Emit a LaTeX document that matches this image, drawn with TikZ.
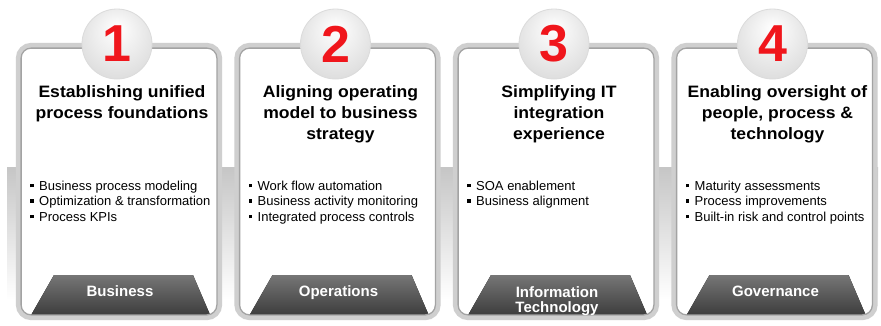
\documentclass[tikz,border=0pt]{standalone}
\usepackage{fontspec}
\setmainfont{Liberation Sans}
\newfontfamily\titlefont[FakeStretch=1.065]{Liberation Sans}
\usetikzlibrary{fadings}
\tikzfading[name=fadelr, left color=transparent!100, middle color=transparent!0, right color=transparent!100]
\definecolor{numred}{RGB}{240,22,28}
\definecolor{traptop}{RGB}{118,118,118}
\definecolor{trapbot}{RGB}{58,58,58}
\pgfdeclareradialshading{numball}{\pgfpoint{0bp}{12bp}}{color(0bp)=(white); color(14bp)=(gray!12); color(32bp)=(gray!28); color(50bp)=(gray!42)}
\newcommand\bul{\makebox[0pt][r]{\raisebox{2.8pt}{\rule{3.6pt}{3.6pt}}\hspace{5.5pt}}}
\newcommand\mkpanel[4]{%
  \pgfmathsetmacro\pL{#2}\pgfmathsetmacro\pR{#2+206}\pgfmathsetmacro\pC{#2+103}%
  \node[panelbody] (p#1) at (\pC,181.5) {};
  \fill[gray!55, path fading=fadelr] (\pL+14,149.6) rectangle (\pR-14,151.8);
  \fill[top color=gray!30, bottom color=white, path fading=fadelr] (\pL+14,151.8) rectangle (\pR-14,157);
  \fill[top color=traptop, bottom color=trapbot] (\pL+38,275) -- (\pR-29,275) -- (\pR-11,317) -- (\pL+14,317) -- cycle;
  \draw[outerframe] (p#1.north west) rectangle (p#1.south east);
  \draw[innerframe] ([shift={(2.8,2.8)}]p#1.north west) rectangle ([shift={(-2.8,-2.8)}]p#1.south east);
  \node[numcircle] (c#1) at (\pC-2,44) {#1};
  \node[titletext] (t#1) at (\pC+3,85.2) {#3};
  \node[listtext] (l#1) at (\pL+23,180.5) {#4};
}
\begin{document}
\begin{tikzpicture}[x=1pt,y=-1pt,
  panelbody/.style={fill=white, minimum width=201pt, minimum height=272pt, inner sep=0pt},
  outerframe/.style={draw=gray!38, line width=5pt, rounded corners=13pt},
  innerframe/.style={draw=gray!72, line width=1.3pt, rounded corners=10pt},
  numcircle/.style={circle, minimum size=70pt, inner sep=0pt, shading=numball, draw=gray!28, line width=0.8pt, text=numred, font=\fontsize{52}{52}\selectfont\bfseries},
  titletext/.style={anchor=north, align=center, inner sep=0pt, font=\fontsize{16.5}{21}\titlefont\bfseries},
  listtext/.style={anchor=north west, align=left, inner sep=0pt, font=\fontsize{13}{15.5}\selectfont},
  labtext/.style={anchor=base, align=center, inner sep=0pt, text=white, font=\fontsize{15}{15}\selectfont\bfseries}]
\useasboundingbox (0,0) rectangle (881,325);
\fill[white] (0,0) rectangle (881,325);
\fill[top color=gray!45, bottom color=white] (7,167) rectangle (878,300);
\mkpanel{1}{16}{Establishing unified\\process foundations}{\bul Business process modeling\\\bul Optimization \& transformation\\\bul Process KPIs}
\node[labtext] (b1) at (120,296) {Business};
\mkpanel{2}{234.5}{Aligning operating\\model to business\\strategy}{\bul Work flow automation\\\bul Business activity monitoring\\\bul Integrated process controls}
\node[labtext] (b2) at (338.5,296) {Operations};
\mkpanel{3}{453}{Simplifying IT\\integration\\experience}{\bul SOA enablement\\\bul Business alignment}
\node[labtext] (b3) at (557,312) {Information\\Technology};
\mkpanel{4}{671.5}{Enabling oversight of\\people, process \&\\technology}{\bul Maturity assessments\\\bul Process improvements\\\bul Built-in risk and  control points}
\node[labtext] (b4) at (775.5,296) {Governance};
\end{tikzpicture}
\end{document}
